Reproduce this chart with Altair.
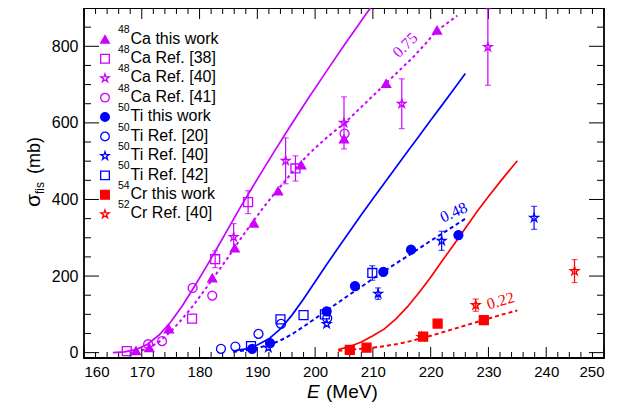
import altair as alt
import pandas as pd

MAG, BLUE, RED = "#CC00FF", "#0000FF", "#FF0000"
STAR = ("M0,-1L0.2245,-0.309L0.951,-0.309L0.363,0.118L0.588,0.809L0,0.382"
        "L-0.588,0.809L-0.363,0.118L-0.951,-0.309L-0.2245,-0.309Z")

# ---------------- data ----------------
ca_tw_E = [169.0, 171.3, 174.7, 182.2, 186.1, 189.4, 193.6, 197.6, 205.0, 212.3, 221.1]
ca_tw_s = [5, 13, 62, 195, 273, 338, 422, 490, 558, 703, 842]
ca38_E = [167.4, 178.7, 182.7, 188.4, 196.6]
ca38_s = [4, 89, 244, 393, 481]
ca38_err = [0, 0, 22, 30, 33]
ca40_E = [185.9, 194.9, 205.0, 215.0, 229.9]
ca40_s = [302, 501, 600, 650, 798]
ca40_err = [35, 60, 68, 65, 100]
ca41_E = [171.1, 173.5, 178.8, 182.2, 205.1]
ca41_s = [22, 30, 169, 149, 572]

ti_tw_E = [189.1, 192.2, 202.0, 206.9, 211.8, 216.6, 224.8]
ti_tw_s = [10, 25, 108, 174, 211, 269, 307]
ti20_E = [183.7, 186.2, 190.2, 194.1, 202.1]
ti20_s = [10, 16, 49, 75, 90]
ti40_E = [191.9, 202.0, 210.9, 221.9, 237.9]
ti40_s = [13, 75, 154, 292, 352]
ti40_err = [0, 0, 15, 25, 30]
ti42_E = [188.9, 194.0, 198.0, 201.7, 209.9]
ti42_s = [17, 87, 98, 100, 208]
ti42_err = [0, 0, 0, 0, 19]

cr_tw_E = [206.0, 208.9, 218.7, 221.2, 229.2]
cr_tw_s = [7, 13, 42, 76, 85]
cr40_E = [218.4, 227.8, 244.9]
cr40_s = [41, 124, 213]
cr40_err = [0, 16, 30]

# theory curves (solid) and scaled curves (dashed)
ca_th_E = [165, 167, 169, 171, 173, 175, 177, 179, 181, 183, 185, 187, 189, 191,
           193, 195, 197, 199, 201, 203, 205, 207, 209, 209.6]
ca_th_s = [0, 2, 8, 22, 46, 80, 122, 170, 220, 272, 325, 378, 428, 478,
           527, 575, 622, 668, 713, 758, 802, 845, 888, 900]
ca_fit_E = [169, 171, 173, 175, 177, 179, 181, 183, 185, 187, 189, 191, 193, 195,
            197, 199, 201, 203, 205, 207, 209, 211, 213, 215, 217, 219, 221, 223, 224.6]
ca_fit_s = [2, 10, 28, 55, 88, 125, 166, 208, 250, 295, 337, 378, 416, 452,
            488, 520, 548, 574, 598, 627, 656, 685, 714, 743, 772, 805, 840, 862, 880]
ti_th_E = [186, 188, 190, 192, 194, 196, 198, 200, 202, 204, 206, 208, 210, 212,
           214, 216, 218, 220, 222, 224, 226]
ti_th_s = [5, 10, 20, 36, 62, 98, 140, 185, 230, 274, 317, 360, 402, 443,
           484, 525, 566, 607, 647, 688, 729]
ti_fit_E = [185.8, 188, 190, 192, 194, 196, 198, 200, 202, 204, 206, 208, 210, 212,
            214, 216, 218, 220, 222, 224, 226]
ti_fit_s = [2, 6, 12, 20, 32, 48, 68, 89, 110, 131, 152, 172, 193, 213,
            233, 252, 272, 292, 311, 330, 350]
cr_th_E = [204, 206, 208, 210, 212, 214, 216, 218, 220, 222, 224, 226, 228, 230,
           232, 234, 235]
cr_th_s = [8, 16, 28, 44, 62, 88, 120, 157, 197, 240, 282, 325, 368, 408,
           446, 483, 501]
cr_fit_E = [204, 206, 208, 210, 212, 214, 216, 218, 220, 222, 224, 226, 228, 230, 232, 235]
cr_fit_s = [5, 7, 10, 13, 17, 22, 28, 36, 44, 53, 62, 71, 80, 89, 98, 110]

fit_labels = ["0.75", "0.48", "0.22"]
fit_label_E = [215.6, 224.0, 232.1]
fit_label_s = [803, 366, 135]

x_major = [160, 170, 180, 190, 200, 210, 220, 230, 240, 250]
x_minor = [162, 164, 166, 168, 172, 174, 176, 178, 182, 184, 186, 188, 192, 194, 196, 198,
           202, 204, 206, 208, 212, 214, 216, 218, 222, 224, 226, 228, 232, 234, 236, 238,
           242, 244, 246, 248]
y_major = [0, 200, 400, 600, 800]
y_minor = [50, 100, 150, 250, 300, 350, 450, 500, 550, 650, 700, 750, 850]

names = ["48Ca this work", "48Ca Ref. [38]", "48Ca Ref. [40]", "48Ca Ref. [41]",
         "50Ti this work", "50Ti Ref. [20]", "50Ti Ref. [40]", "50Ti Ref. [42]",
         "54Cr this work", "52Cr Ref. [40]"]
leg_mass = ["48", "48", "48", "48", "50", "50", "50", "50", "54", "52"]
leg_text = ["Ca this work", "Ca Ref. [38]", "Ca Ref. [40]", "Ca Ref. [41]",
            "Ti this work", "Ti Ref. [20]", "Ti Ref. [40]", "Ti Ref. [42]",
            "Cr this work", "Cr Ref. [40]"]
strokes = [MAG, MAG, MAG, MAG, BLUE, BLUE, BLUE, BLUE, RED, RED]
fills = [MAG, "transparent", "transparent", "transparent", BLUE, "transparent",
         "transparent", "transparent", RED, "transparent"]
shapes = ["triangle-up", "square", STAR, "circle", "circle", "circle", STAR, "square",
          "square", STAR]

# ---------------- tables ----------------
sets = [
    (ca_tw_E, ca_tw_s, None), (ca38_E, ca38_s, ca38_err), (ca40_E, ca40_s, ca40_err),
    (ca41_E, ca41_s, None), (ti_tw_E, ti_tw_s, None), (ti20_E, ti20_s, None),
    (ti40_E, ti40_s, ti40_err), (ti42_E, ti42_s, ti42_err), (cr_tw_E, cr_tw_s, None),
    (cr40_E, cr40_s, cr40_err),
]
rows = []
for name, col, (Es, ss, errs) in zip(names, strokes, sets):
    for i, (e, s) in enumerate(zip(Es, ss)):
        err = errs[i] if errs else 0
        rows.append({"series": name, "E": e, "s": s, "err": err,
                     "lo": s - err, "hi": min(s + err, 898), "col": col})
pts = pd.DataFrame(rows)
errdf = pts[pts["err"] > 0]

# legend layout (pixel rows inside the plot, top-left)
LEG_Y0, LEG_DY = 31.3, 19.44
legdf = pd.DataFrame({"series": names, "mass": leg_mass, "txt": leg_text,
                      "py": [LEG_Y0 + i * LEG_DY for i in range(len(names))]})
legdf["py_sup"] = legdf["py"] - 6
legdf["py_txt"] = legdf["py"] + 4.2

xs = alt.Scale(domain=[160, 250], nice=False, zero=False)
ys = alt.Scale(domain=[-14, 900], nice=False, zero=False)
FONT = "Liberation Sans"
xax = alt.Axis(values=x_major, ticks=False, domain=False, grid=False, title=None,
               labelFontSize=15, labelFont=FONT, labelColor="black", labelPadding=6,
               format="d")
yax = alt.Axis(values=y_major, ticks=False, domain=False, grid=False, title=None,
               labelFontSize=16, labelFont=FONT, labelColor="black", labelPadding=6,
               format="d")


def X(f):
    return alt.X(f, type="quantitative", scale=xs, axis=xax)


def Y(f):
    return alt.Y(f, type="quantitative", scale=ys, axis=yax)


W, H = 520, 350
layers = []

# inward ticks on all four sides
xmaj = pd.DataFrame({"v": x_major})
xmin = pd.DataFrame({"v": x_minor})
ymaj = pd.DataFrame({"v": y_major})
ymin = pd.DataFrame({"v": y_minor})
for df, L in [(xmaj, 11), (xmin, 6)]:
    layers.append(alt.Chart(df).mark_rule(color="black", strokeWidth=1).encode(
        x=X("v"), y=alt.value(H), y2=alt.value(H - L)))
    layers.append(alt.Chart(df).mark_rule(color="black", strokeWidth=1).encode(
        x=X("v"), y=alt.value(0), y2=alt.value(L)))
for df, L in [(ymaj, 15), (ymin, 7)]:
    layers.append(alt.Chart(df).mark_rule(color="black", strokeWidth=1).encode(
        y=Y("v"), x=alt.value(0), x2=alt.value(L)))
    layers.append(alt.Chart(df).mark_rule(color="black", strokeWidth=1).encode(
        y=Y("v"), x=alt.value(W), x2=alt.value(W - L)))

# curves
curves = [
    (ca_th_E, ca_th_s, MAG, None), (ca_fit_E, ca_fit_s, MAG, [3, 3]),
    (ti_th_E, ti_th_s, BLUE, None), (ti_fit_E, ti_fit_s, BLUE, [4, 3]),
    (cr_th_E, cr_th_s, RED, None), (cr_fit_E, cr_fit_s, RED, [4, 3]),
]
for Es, ss, c, dash in curves:
    df = pd.DataFrame({"E": Es, "s": ss})
    kw = dict(color=c, strokeWidth=1.7 if dash is None else 2.0, clip=True)
    if dash:
        kw["strokeDash"] = dash
    layers.append(alt.Chart(df).mark_line(**kw).encode(x=X("E"), y=Y("s"), order="E:Q"))

# error bars
layers.append(alt.Chart(errdf).mark_rule(strokeWidth=1.2, clip=True).encode(
    x=X("E"), y=Y("lo"), y2="hi", color=alt.Color("col:N", scale=None)))
for f in ["lo", "hi"]:
    layers.append(alt.Chart(errdf).mark_tick(orient="horizontal", size=6, thickness=1.2,
                                             clip=True).encode(
        x=X("E"), y=Y(f), color=alt.Color("col:N", scale=None)))

# markers
enc_style = dict(
    color=alt.Color("series:N", sort=names, scale=alt.Scale(domain=names, range=strokes), legend=None),
    fill=alt.Fill("series:N", sort=names, scale=alt.Scale(domain=names, range=fills), legend=None),
    shape=alt.Shape("series:N", sort=names, scale=alt.Scale(domain=names, range=shapes), legend=None),
)
layers.append(alt.Chart(pts).mark_point(filled=False, strokeWidth=1.3, opacity=1, size=80).encode(
    x=X("E"), y=Y("s"), **enc_style))

# legend (drawn inside the plot, top-left)
layers.append(alt.Chart(legdf).mark_point(filled=False, strokeWidth=1.3, opacity=1, size=75).encode(
    x=alt.value(21), y=alt.Y("py:Q", scale=None), **enc_style))
layers.append(alt.Chart(legdf).mark_text(align="left", baseline="alphabetic", font=FONT,
                                         fontSize=10.5, color="black").encode(
    x=alt.value(34), y=alt.Y("py_sup:Q", scale=None), text="mass:N"))
layers.append(alt.Chart(legdf).mark_text(align="left", baseline="alphabetic", font=FONT,
                                         fontSize=16, color="black").encode(
    x=alt.value(46.5), y=alt.Y("py_txt:Q", scale=None), text="txt:N"))

# fit factor labels
for t, e, s, c, a in zip(fit_labels, fit_label_E, fit_label_s, [MAG, BLUE, RED], [316, 336, 344]):
    layers.append(alt.Chart(pd.DataFrame({"E": [e], "s": [s], "t": [t]})).mark_text(
        angle=a, font="Liberation Serif", fontSize=16, color=c).encode(
        x=X("E"), y=Y("s"), text="t:N"))

# axis titles
def txt(t, x, y, size, angle=0, style="normal"):
    return alt.Chart(pd.DataFrame({"t": [t]})).mark_text(
        align="left", baseline="alphabetic", angle=angle, fontSize=size, font=FONT,
        fontStyle=style, color="black").encode(x=alt.value(x), y=alt.value(y), text="t:N")

layers.append(txt("σ", -44, 199, 21, 270))
layers.append(txt("fis", -40, 186, 12, 270))
layers.append(txt("(mb)", -44, 166, 18, 270))
layers.append(txt("E", 223, 390, 19, 0, "italic"))
layers.append(txt("(MeV)", 242, 390, 19))

chart = alt.layer(*layers).properties(
    width=W, height=H, autosize="none",
    padding={"left": 76, "top": 0, "right": 13, "bottom": 46},
).configure_view(stroke="black", strokeWidth=1.8)

chart.save("out.html", embed_options={"renderer": "svg", "actions": False})
